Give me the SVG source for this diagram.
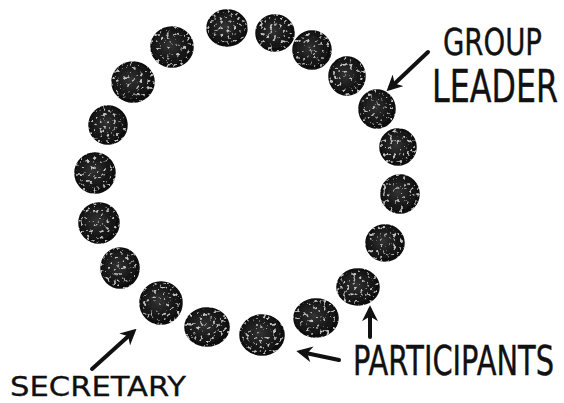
<svg xmlns="http://www.w3.org/2000/svg" width="564" height="403" viewBox="0 0 564 403">
<defs>
<radialGradient id="g" cx="0.45" cy="0.45" r="0.6">
<stop offset="0" stop-color="#333"/>
<stop offset="0.55" stop-color="#1a1a1a"/>
<stop offset="1" stop-color="#0a0a0a"/>
</radialGradient>
<filter id="speck" x="-10%" y="-10%" width="120%" height="120%">
<feTurbulence type="fractalNoise" baseFrequency="0.3" numOctaves="2" seed="7" result="n"/>
<feColorMatrix in="n" type="matrix" values="0 0 0 0 0.55  0 0 0 0 0.55  0 0 0 0 0.55  0 0 0 -7 2.7" result="s"/>
<feComposite in="s" in2="SourceGraphic" operator="in" result="sc"/>
<feMerge><feMergeNode in="SourceGraphic"/><feMergeNode in="sc"/></feMerge>
</filter>
<marker id="ah" viewBox="0 0 10 10" refX="7" refY="5" markerWidth="4" markerHeight="4" orient="auto" markerUnits="strokeWidth">
<path d="M0,0 L10,5 L0,10 L3,5 Z" fill="#111"/>
</marker>
<style>
.dot{fill:url(#g);stroke:#0a0a0a;stroke-width:1.5;filter:url(#speck)}
.arr{stroke:#111;stroke-width:4;fill:none;stroke-linecap:round;marker-end:url(#ah)}
.lbl{font-family:"DejaVu Sans","Liberation Sans",sans-serif;fill:#111;stroke:#111;stroke-width:0.3}
</style>
</defs>
<rect width="564" height="403" fill="#fff"/>
<g id="circle">
<g id="p1"><ellipse class="dot" cx="227" cy="28" rx="20" ry="18"/></g>
<g id="p2"><ellipse class="dot" cx="275" cy="33" rx="19" ry="18"/></g>
<g id="p3"><ellipse class="dot" cx="312" cy="50" rx="19" ry="19"/></g>
<g id="p4"><ellipse class="dot" cx="347" cy="76" rx="18" ry="19"/></g>
<g id="leader"><ellipse class="dot" cx="377" cy="109" rx="18" ry="19"/></g>
<g id="p6"><ellipse class="dot" cx="398" cy="147" rx="18" ry="18"/></g>
<g id="p7"><ellipse class="dot" cx="400" cy="194" rx="19" ry="19"/></g>
<g id="p8"><ellipse class="dot" cx="385" cy="243" rx="19" ry="18"/></g>
<g id="p9"><ellipse class="dot" cx="358" cy="287" rx="21" ry="18"/></g>
<g id="p10"><ellipse class="dot" cx="316" cy="318" rx="22" ry="19"/></g>
<g id="p11"><ellipse class="dot" cx="262" cy="335" rx="22" ry="20"/></g>
<g id="p12"><ellipse class="dot" cx="207" cy="327" rx="22" ry="19"/></g>
<g id="secretary"><ellipse class="dot" cx="161" cy="303" rx="21" ry="21"/></g>
<g id="p14"><ellipse class="dot" cx="120" cy="268" rx="19" ry="20"/></g>
<g id="p15"><ellipse class="dot" cx="99" cy="223" rx="20" ry="20"/></g>
<g id="p16"><ellipse class="dot" cx="95" cy="173" rx="20" ry="20"/></g>
<g id="p17"><ellipse class="dot" cx="108" cy="125" rx="19" ry="19"/></g>
<g id="p18"><ellipse class="dot" cx="133" cy="82" rx="21" ry="20"/></g>
<g id="p19"><ellipse class="dot" cx="172" cy="47" rx="21" ry="20"/></g>
</g>
<g id="connectors">
<line class="arr" x1="428" y1="52" x2="390" y2="88"/>
<line class="arr" x1="92" y1="369" x2="133" y2="332"/>
<line class="arr" x1="370" y1="337" x2="370" y2="310"/>
<line class="arr" x1="339" y1="360" x2="301" y2="352"/>
</g>
<g id="labels">
<text class="lbl" transform="translate(443,55) scale(1,1.4)" font-size="27" textLength="99" lengthAdjust="spacingAndGlyphs">GROUP</text>
<text class="lbl" transform="translate(432,102) scale(1,1.45)" font-size="31" textLength="126" lengthAdjust="spacingAndGlyphs">LEADER</text>
<text class="lbl" transform="translate(353,375) scale(1,1.45)" font-size="28" textLength="201" lengthAdjust="spacingAndGlyphs">PARTICIPANTS</text>
<text class="lbl" x="10" y="396" font-size="27" textLength="176" lengthAdjust="spacingAndGlyphs">SECRETARY</text>
</g>
</svg>
